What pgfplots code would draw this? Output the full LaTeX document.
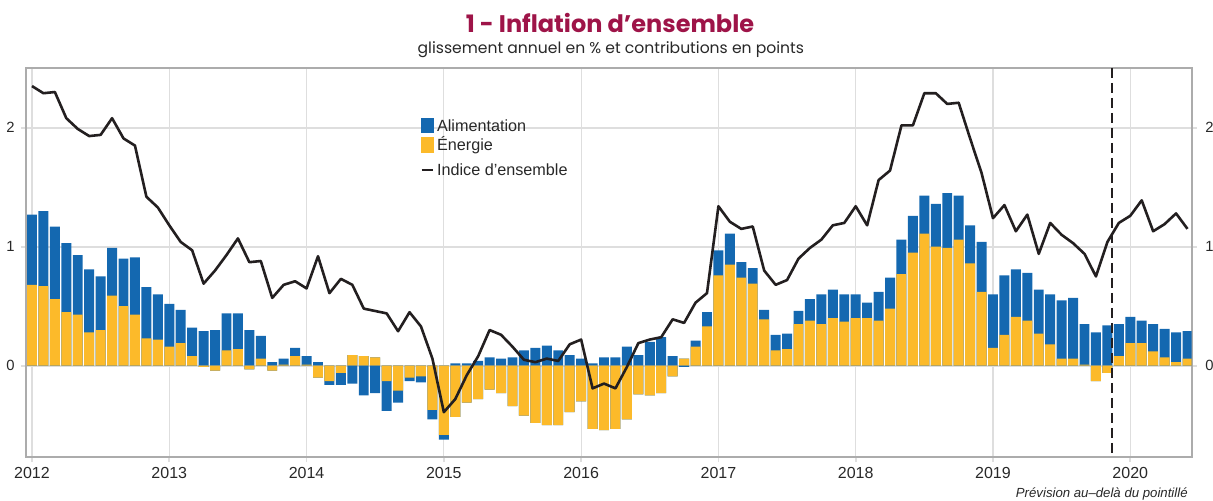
\documentclass[border=0pt]{standalone}
\usepackage{fontspec}
\setmainfont{Liberation Sans}
\newfontfamily\titlefont{Poppins}
\usepackage{pgfplots}
\pgfplotsset{compat=1.18}
\usepackage{pgfplotstable}

\definecolor{cBlue}{RGB}{20,104,176}
\definecolor{cYellow}{RGB}{252,186,42}
\definecolor{cTitle}{RGB}{158,20,72}
\definecolor{cLine}{RGB}{35,31,32}
\definecolor{cGrid}{RGB}{222,222,222}
\definecolor{cFrame}{RGB}{172,172,172}
\definecolor{cText}{RGB}{40,40,40}

% m = months since Jan 2012, E = energy contribution, F = food contribution, I = headline inflation
\pgfplotstableread{
m E F I
0 0.68 0.59 2.35
1 0.67 0.63 2.29
2 0.56 0.61 2.30
3 0.45 0.58 2.08
4 0.43 0.50 1.99
5 0.28 0.53 1.93
6 0.30 0.45 1.94
7 0.59 0.40 2.08
8 0.50 0.40 1.91
9 0.43 0.48 1.85
10 0.23 0.43 1.42
11 0.22 0.38 1.33
12 0.16 0.36 1.18
13 0.19 0.28 1.04
14 0.08 0.24 0.97
15 -0.01 0.29 0.69
16 -0.04 0.30 0.80
17 0.13 0.31 0.93
18 0.14 0.30 1.07
19 -0.03 0.30 0.87
20 0.06 0.19 0.88
21 -0.04 0.03 0.57
22 0.01 0.05 0.68
23 0.08 0.07 0.71
24 0.01 0.07 0.65
25 -0.10 0.03 0.92
26 -0.13 -0.03 0.61
27 -0.06 -0.10 0.73
28 0.09 -0.15 0.68
29 0.08 -0.25 0.48
30 0.07 -0.23 0.46
31 -0.13 -0.25 0.44
32 -0.21 -0.10 0.29
33 -0.10 -0.03 0.45
34 -0.09 -0.05 0.33
35 -0.37 -0.08 0.06
36 -0.58 -0.04 -0.39
37 -0.43 0.02 -0.28
38 -0.31 0.02 -0.08
39 -0.28 0.04 0.08
40 -0.20 0.07 0.30
41 -0.23 0.06 0.26
42 -0.34 0.07 0.16
43 -0.42 0.13 0.05
44 -0.48 0.15 0.03
45 -0.50 0.17 0.06
46 -0.50 0.13 0.04
47 -0.39 0.09 0.18
48 -0.30 0.06 0.22
49 -0.53 0.02 -0.19
50 -0.54 0.07 -0.15
51 -0.53 0.07 -0.19
52 -0.45 0.16 -0.01
53 -0.24 0.09 0.19
54 -0.25 0.20 0.22
55 -0.23 0.24 0.24
56 -0.09 0.08 0.39
57 0.06 -0.01 0.36
58 0.16 0.05 0.53
59 0.33 0.12 0.61
60 0.76 0.21 1.34
61 0.85 0.26 1.21
62 0.74 0.13 1.15
63 0.69 0.13 1.17
64 0.39 0.08 0.80
65 0.13 0.13 0.68
66 0.14 0.13 0.72
67 0.35 0.11 0.90
68 0.38 0.18 0.99
69 0.35 0.25 1.06
70 0.40 0.24 1.18
71 0.37 0.23 1.20
72 0.40 0.20 1.34
73 0.40 0.13 1.18
74 0.38 0.24 1.56
75 0.48 0.26 1.64
76 0.77 0.29 2.02
77 0.95 0.31 2.02
78 1.11 0.32 2.29
79 1.00 0.36 2.29
80 0.99 0.46 2.20
81 1.06 0.37 2.21
82 0.86 0.32 1.91
83 0.62 0.42 1.62
84 0.15 0.45 1.24
85 0.26 0.50 1.35
86 0.41 0.40 1.13
87 0.38 0.40 1.27
88 0.27 0.37 0.94
89 0.18 0.42 1.20
90 0.06 0.49 1.10
91 0.06 0.51 1.03
92 0.01 0.34 0.94
93 -0.13 0.28 0.75
94 -0.06 0.34 1.04
95 0.08 0.27 1.20
96 0.19 0.22 1.26
97 0.19 0.19 1.39
98 0.12 0.23 1.13
99 0.07 0.24 1.19
100 0.03 0.25 1.28
101 0.06 0.23 1.15
}\data

\begin{document}
\begin{tikzpicture}
\begin{axis}[
  name=main,
  scale only axis, width=582.85pt, height=194.75pt,
  xmin=-0.524, xmax=101.37, ymin=-0.771, ymax=2.502,
  axis line style={cFrame, line width=1pt},
  xtick={0,12,24,36,48,60,72,84,96},
  xticklabels={2012,2013,2014,2015,2016,2017,2018,2019,2020},
  ytick={0,1,2},
  xtick pos=bottom, ytick pos=both, yticklabel pos=left,
  tick align=outside, major tick length=2.5pt,
  tick style={cGrid, line width=0.9pt},
  xmajorgrids, ymajorgrids,
  x grid style={cGrid, line width=0.6pt},
  y grid style={cGrid, line width=1pt},
  /pgf/number format/assume math mode=true,
  xticklabel style={font=\fontsize{8}{9}\selectfont, text=cText, anchor=north, inner sep=0pt, yshift=-2.3pt},
  yticklabel style={font=\fontsize{7.4}{9}\selectfont, text=cText, anchor=east, inner sep=0pt, xshift=-3pt},
  legend style={at={(axis cs:33.92,2.087)}, anchor=north west, draw=none, fill=none,
    font=\fontsize{8.1}{9}\selectfont, text=cText, inner sep=0pt, row sep=0pt, column sep=0pt,
    nodes={inner sep=0pt, text height=3.4pt, text depth=0pt}},
  legend cell align=left,
]
\addlegendimage{legend image code/.code={\fill[cBlue] (0pt,-2.05pt) rectangle (5.85pt,5.15pt); \path (0pt,-4.05pt);}}
\addlegendentry{\hspace{1.3pt}Alimentation}
\addlegendimage{legend image code/.code={\fill[cYellow] (0pt,-2.7pt) rectangle (5.85pt,4.95pt);}}
\addlegendentry{\hspace{1.3pt}Énergie}
\addlegendimage{legend image code/.code={\draw[cLine, line width=1.1pt] (0pt,1.0pt) -- (5.9pt,1.0pt); \path (0pt,9.15pt);}}
\addlegendentry{\hspace{1.3pt}Indice d’ensemble}

\addplot[ybar, bar width=0.87, bar shift=0pt, fill=cBlue, draw=none, forget plot]
  table[x=m, y expr={max(\thisrow{E},0)+max(\thisrow{F},0)}] {\data};
\addplot[ybar, bar width=0.87, bar shift=0pt, fill=cYellow, draw=none, forget plot]
  table[x=m, y expr={max(\thisrow{E},0)}] {\data};
\addplot[ybar, bar width=0.87, bar shift=0pt, fill=cBlue, draw=none, forget plot]
  table[x=m, y expr={min(\thisrow{E},0)+min(\thisrow{F},0)}] {\data};
\addplot[ybar, bar width=0.87, bar shift=0pt, fill=cYellow, draw=none, forget plot]
  table[x=m, y expr={min(\thisrow{E},0)}] {\data};
\addplot[cLine, line width=1.3pt, line join=round, forget plot] table[x=m, y=I] {\data};
\addplot[cLine, line width=1.3pt, dash pattern=on 5pt off 2.5pt, forget plot]
  coordinates {(94.4,2.502) (94.4,-0.771)};
\end{axis}
\begin{axis}[
  scale only axis, width=582.85pt, height=194.75pt,
  xmin=-0.524, xmax=101.37, ymin=-0.771, ymax=2.502,
  hide x axis, axis y line*=right, y axis line style={draw=none},
  ytick={0,1,2}, major tick length=0pt,
  /pgf/number format/assume math mode=true,
  yticklabel style={font=\fontsize{7.4}{9}\selectfont, text=cText, anchor=west, inner sep=0pt, xshift=6.65pt},
]
\end{axis}
\node[font=\titlefont\bfseries\fontsize{12}{14}\selectfont, text=cTitle, anchor=base]
  at ([xshift=0.55pt, yshift=17.85pt]main.north) {1 - Inflation d’ensemble};
\node[font=\titlefont\fontsize{7.8}{9}\selectfont, text=cText, anchor=base]
  at ([xshift=1pt, yshift=7.35pt]main.north) {glissement annuel en \% et contributions en points};
\node[font=\itshape\fontsize{6.6}{7}\selectfont, text=cText, anchor=base east]
  at ([xshift=1.5pt, yshift=-20.2pt]main.south east) {Prévision au–delà du pointillé};
\pgfresetboundingbox
\path[use as bounding box] ([xshift=-13pt,yshift=-21.75pt]main.south west) rectangle ([xshift=10.65pt,yshift=34pt]main.north east);
\end{tikzpicture}
\end{document}
